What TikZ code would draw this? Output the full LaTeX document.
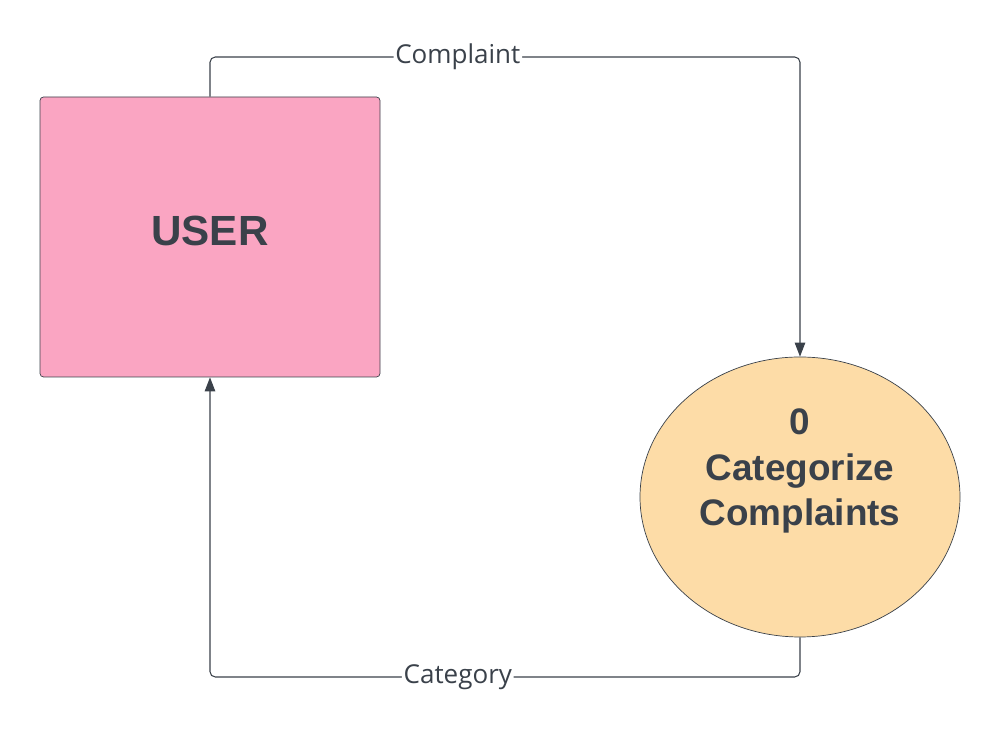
\documentclass[tikz,border=0pt]{standalone}
\usepackage{fontspec}
\setmainfont{Liberation Sans}
\newfontfamily\lblfont{Open Sans}
\usetikzlibrary{shapes.geometric,arrows.meta}

\definecolor{inkgray}{HTML}{3A414A}
\definecolor{userpink}{HTML}{FAA5C2}
\definecolor{procorange}{HTML}{FDDCA7}

\tikzset{
    entity/.style={draw=inkgray, fill=userpink, rounded corners=2pt, minimum width=6.8cm, minimum height=5.6cm, inner sep=0pt},
    entitytext/.style={text=inkgray, inner sep=0pt, font=\fontsize{24}{29}\selectfont\bfseries},
    process/.style={draw=inkgray, fill=procorange, ellipse, minimum width=6.4cm, minimum height=5.6cm, inner sep=0pt},
    proctext/.style={text=inkgray, align=center, inner sep=0pt, font=\fontsize{21}{26}\selectfont\bfseries},
    flow/.style={draw=inkgray, line width=0.6pt, rounded corners=3pt, -{Triangle[length=8pt,width=6pt]}},
    lbl/.style={fill=white, inner sep=1pt, text=inkgray, font=\lblfont\fontsize{14.8}{17}\selectfont}
}

\begin{document}
\begin{tikzpicture}
            \useasboundingbox (0,0) rectangle (20,14.7);
            \node[entity] (user) at (4.2,9.96) {};
            \node[entitytext] (userlbl) at ([yshift=0.12cm]user.center) {USER};
            \node[process] (proc) at (16,4.76) {};
            \node[proctext] (proclbl) at ([yshift=0.52cm]proc.center) {0\\Categorize\\Complaints};
            \coordinate (toprail) at (0,13.56);
            \coordinate (botrail) at (0,1.16);
            \draw[flow] (user.north) |- node[lbl,pos=0.71]{Complaint} (proc.north |- toprail) -- (proc.north);
            \draw[flow] (proc.south) |- node[lbl,pos=0.79]{Category} (user.south |- botrail) -- (user.south);
        \end{tikzpicture}
\end{document}
